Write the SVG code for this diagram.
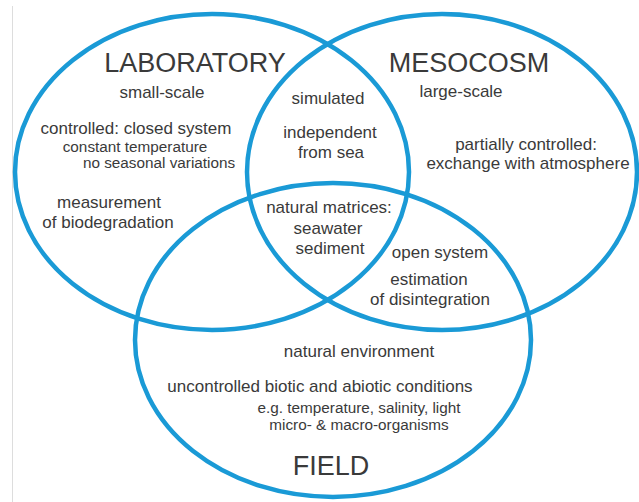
<svg xmlns="http://www.w3.org/2000/svg" width="639" height="502" viewBox="0 0 639 502">
<style>
.ring{fill:none;stroke:#1a9ad6;stroke-width:4.5}
text{font-family:"Liberation Sans",Arial,sans-serif;fill:#3a3a3a;text-anchor:middle}
.t{font-size:27px}
.b{font-size:17px}
.s{font-size:15.3px}
</style>
<rect width="639" height="502" fill="#ffffff"/>
<line x1="12.5" y1="6" x2="12.5" y2="502" stroke="#dddddd" stroke-width="1"/>
<g id="connectors"></g>
<g id="laboratory">
<ellipse class="ring" cx="212" cy="172" rx="197" ry="158"/>
<text class="t" x="195" y="72">LABORATORY</text>
<text class="b" x="162" y="98">small-scale</text>
<text class="b" x="136" y="134">controlled: closed system</text>
<text class="s" x="135" y="152">constant temperature</text>
<text class="s" x="159" y="168">no seasonal variations</text>
<text class="b" x="109" y="208">measurement</text>
<text class="b" x="108" y="228">of biodegradation</text>
</g>
<g id="mesocosm">
<ellipse class="ring" cx="442" cy="172" rx="195" ry="158"/>
<text class="t" x="469" y="72">MESOCOSM</text>
<text class="b" x="461" y="97">large-scale</text>
<text class="b" x="526" y="150">partially controlled:</text>
<text class="b" x="528" y="169">exchange with atmosphere</text>
</g>
<g id="field">
<ellipse class="ring" cx="333" cy="340" rx="198" ry="157"/>
<text class="b" x="359" y="357">natural environment</text>
<text class="b" x="320" y="392">uncontrolled biotic and abiotic conditions</text>
<text class="s" x="359" y="413">e.g. temperature, salinity, light</text>
<text class="s" x="359" y="430">micro- &amp; macro-organisms</text>
<text class="t" x="331" y="475">FIELD</text>
</g>
<g id="lab-meso">
<text class="b" x="328" y="104">simulated</text>
<text class="b" x="330" y="138">independent</text>
<text class="b" x="331" y="158">from sea</text>
</g>
<g id="all-three">
<text class="b" x="329" y="213">natural matrices:</text>
<text class="b" x="328" y="234">seawater</text>
<text class="b" x="330" y="254">sediment</text>
</g>
<g id="meso-field">
<text class="b" x="440" y="258">open system</text>
<text class="b" x="429" y="285">estimation</text>
<text class="b" x="430" y="305">of disintegration</text>
</g>
</svg>
